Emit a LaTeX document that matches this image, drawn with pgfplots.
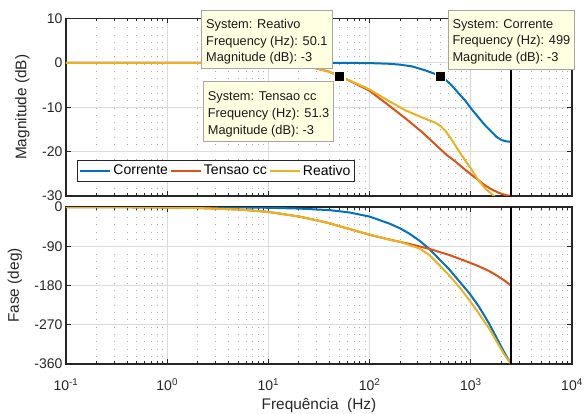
\documentclass[border=0pt]{standalone}
\usepackage{fontspec}
\setmainfont{Liberation Sans}
\usepackage{pgfplots}
\pgfplotsset{compat=1.18}
\definecolor{mblue}{RGB}{0,114,189}
\definecolor{mred}{RGB}{217,83,25}
\definecolor{myel}{RGB}{237,177,32}
\definecolor{tipbg}{RGB}{255,255,225}
\definecolor{axgray}{RGB}{38,38,38}

\pgfplotsset{
 bodestyle/.style={
  scale only axis, width=506pt,
  xmin=0.1, xmax=10000,
  xtick={0.1,1,10,100,1000,10000},
  minor xtick={0.2,0.3,0.4,0.5,0.6,0.7,0.8,0.9,2,3,4,5,6,7,8,9,20,30,40,50,60,70,80,90,200,300,400,500,600,700,800,900,2000,3000,4000,5000,6000,7000,8000,9000},
  xmajorgrids, ymajorgrids, xminorgrids,
  major grid style={black!14, line width=0.8pt},
  minor grid style={black!32, line width=0.8pt, dash pattern=on 0.8pt off 6.5pt},
  tick align=inside,
  major tick length=5pt, minor tick length=3pt,
  tick style={axgray, line width=0.8pt},
  axis line style={axgray, line width=1.2pt},
  tick label style={font=\fontsize{14}{16}\selectfont, text=axgray},
  label style={font=\fontsize{15.4}{18}\selectfont, text=axgray},
  clip=true,
 }
}
\tikzset{tipbox/.style={draw=black!35, fill=tipbg, line width=0.6pt},
  tiptext/.style={align=left, anchor=north west, inner sep=0pt,
  font=\fontsize{12.8}{16.7}\selectfont, text=black!90}}

\begin{document}
\begin{tikzpicture}
\useasboundingbox (0pt,0pt) rectangle (585pt,414pt);

\begin{semilogxaxis}[bodestyle, at={(66pt,218pt)}, anchor=south west, height=177.5pt,
  ymin=-30, ymax=10, ytick={-30,-20,-10,0,10}, yticklabels={-30,-20,-10,0,10},
  xticklabels={},
  ylabel={Magnitude (dB)},
  ylabel style={at={(axis description cs:-0.086,0.5)}, anchor=center},
  legend columns=-1,
  legend image code/.code={\draw[#1, line width=2pt] (0pt,0pt) -- (30pt,0pt);},
  legend style={at={(axis description cs:0.2964,0.142)}, anchor=center, draw=axgray, line width=0.8pt, fill=white,
    font=\fontsize{14}{16}\selectfont, inner xsep=2pt, inner ysep=2.5pt,
    /tikz/every even column/.append style={column sep=0pt}},
  ]
\addplot[mblue, line width=2pt] coordinates {
(0.1,0) (1,0) (10,0) (30,0) (60,0) (100,-0.05) (155,-0.2) (200,-0.4) (263,-0.8)
(356,-1.7) (420,-2.3) (499,-3.0) (570,-3.9) (650,-5.1) (760,-6.9) (881,-8.5)
(1000,-10.2) (1191,-12.3) (1400,-14.2) (1611,-15.6) (1800,-16.7) (2020,-17.4)
(2250,-17.7) (2500,-17.8)};
\addlegendentry{Corrente}
\addplot[mred, line width=2pt] coordinates {
(0.1,0) (1,0) (5,-0.04) (10,-0.16) (20,-0.6) (30,-1.25) (40,-2.0) (51.3,-3.0)
(70,-4.5) (100,-6.3) (155,-9.6) (226,-12.5) (330,-15.6) (447,-18.4) (580,-20.8)
(702,-22.2) (850,-23.8) (1000,-25.1) (1200,-26.5) (1380,-27.6) (1600,-28.5)
(1900,-29.3) (2200,-29.8) (2500,-30.0)};
\addlegendentry{Tensao cc}
\addplot[myel, line width=2pt] coordinates {
(0.1,0) (1,0) (5,-0.04) (10,-0.16) (20,-0.6) (30,-1.25) (40,-2.0) (50.1,-3.0)
(70,-4.4) (100,-6.0) (155,-8.6) (226,-10.7) (330,-12.3) (447,-13.5) (500,-14.2)
(560,-15.3) (630,-16.9) (702,-18.6) (790,-20.4) (881,-22.0) (1000,-23.8)
(1191,-26.5) (1400,-28.4) (1738,-30.2) (2000,-31.5) (2500,-33)};
\addlegendentry{Reativo}
\addplot[black, line width=2pt, forget plot] coordinates {(2500,-30) (2500,10)};
\addplot[only marks, mark=square*, mark size=4.7pt, forget plot,
  mark options={fill=black, draw=tipbg, line width=0.6pt}]
  coordinates {(51.3,-3) (50.1,-3) (499,-3)};
\end{semilogxaxis}

\begin{semilogxaxis}[bodestyle, at={(66pt,50pt)}, anchor=south west, height=157pt,
  ymin=-360, ymax=0, ytick={-360,-270,-180,-90,0}, yticklabels={-360,-270,-180,-90,0},
  xticklabels={10\textsuperscript{-1},10\textsuperscript{0},10\textsuperscript{1},10\textsuperscript{2},10\textsuperscript{3},10\textsuperscript{4}},
  xticklabel style={yshift=-11pt},
  ylabel={Fase (deg)},
  ylabel style={at={(axis description cs:-0.1008,0.5)}, anchor=center},
  xlabel={Frequência~~(Hz)},
  xlabel style={at={(axis description cs:0.5,0)}, anchor=base, yshift=-45.5pt},
  ]
\addplot[mblue, line width=2pt] coordinates {
(0.1,0) (1,-0.2) (5,-0.9) (10,-1.8) (20,-3.6) (40.5,-7.2) (63.5,-12.6) (100,-22)
(157,-38) (200,-49) (247,-61) (310,-77) (389,-96) (480,-118) (612,-143) (780,-172)
(962,-197) (1200,-228) (1513,-267) (1800,-300) (2100,-330) (2500,-360)};
\addplot[mred, line width=2pt] coordinates {
(0.1,-0.1) (0.5,-0.6) (1,-1.2) (2,-2.3) (5,-5.7) (10,-11.2) (20,-21.8) (30,-30.5)
(40.5,-37.5) (50,-44) (63.5,-50.5) (100,-63.7) (157,-74.6) (247,-84.6) (389,-96)
(612,-110) (962,-127) (1200,-136) (1513,-146.7) (1800,-157) (2100,-167) (2500,-180)};
\addplot[myel, line width=2pt] coordinates {
(0.1,-0.1) (0.5,-0.6) (1,-1.2) (2,-2.3) (5,-5.7) (10,-11.2) (20,-21.8) (30,-30.5)
(40.5,-37.5) (50,-44) (63.5,-50.5) (100,-63.3) (157,-75) (200,-80) (247,-87)
(310,-95) (389,-110) (480,-131) (612,-156.7) (780,-185) (962,-212.7) (1200,-244)
(1513,-278) (1800,-308) (2100,-335) (2500,-360)};
\addplot[black, line width=2pt] coordinates {(2500,-360) (2500,0)};
\end{semilogxaxis}

\draw[tipbox] (201pt,404pt) rectangle (332pt,345.7pt);
\node[tiptext] at (206pt,395pt) {System: Reativo\\Frequency (Hz): 50.1\\Magnitude (dB): -3};
\draw[tipbox] (203pt,332.3pt) rectangle (333pt,272.3pt);
\node[tiptext] at (207.7pt,322.5pt) {System: Tensao cc\\Frequency (Hz): 51.3\\Magnitude (dB): -3};
\draw[tipbox] (448pt,404pt) rectangle (574pt,345pt);
\node[tiptext] at (452.3pt,395pt) {System: Corrente\\Frequency (Hz): 499\\Magnitude (dB): -3};
\end{tikzpicture}
\end{document}
